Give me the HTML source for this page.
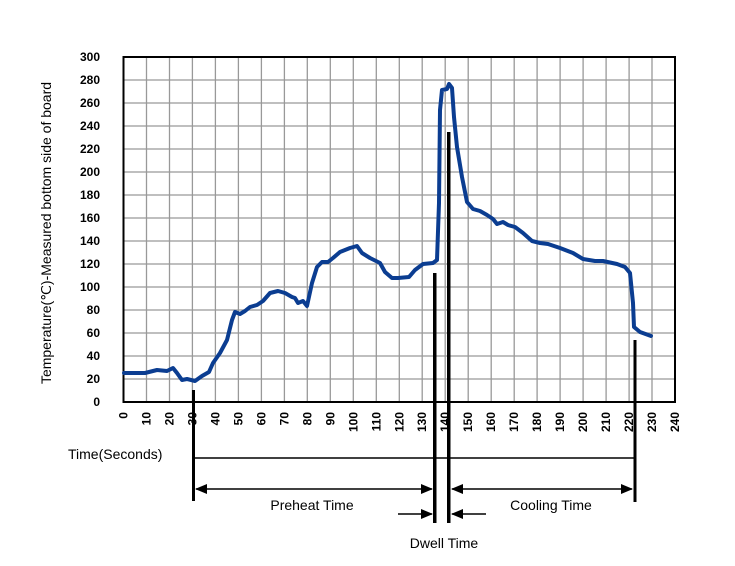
<!DOCTYPE html>
<html><head><meta charset="utf-8"><style>body{margin:0;background:#fff}</style></head><body>
<svg width="735" height="561" xmlns="http://www.w3.org/2000/svg" font-family="Liberation Sans, Arial, sans-serif">
<g stroke="#999" stroke-width="1.3">
<line x1="146.5" y1="57" x2="146.5" y2="402"/><line x1="169.5" y1="57" x2="169.5" y2="402"/><line x1="192.4" y1="57" x2="192.4" y2="402"/><line x1="215.4" y1="57" x2="215.4" y2="402"/><line x1="238.4" y1="57" x2="238.4" y2="402"/><line x1="261.4" y1="57" x2="261.4" y2="402"/><line x1="284.4" y1="57" x2="284.4" y2="402"/><line x1="307.3" y1="57" x2="307.3" y2="402"/><line x1="330.3" y1="57" x2="330.3" y2="402"/><line x1="353.3" y1="57" x2="353.3" y2="402"/><line x1="376.3" y1="57" x2="376.3" y2="402"/><line x1="399.3" y1="57" x2="399.3" y2="402"/><line x1="422.2" y1="57" x2="422.2" y2="402"/><line x1="445.2" y1="57" x2="445.2" y2="402"/><line x1="468.2" y1="57" x2="468.2" y2="402"/><line x1="491.2" y1="57" x2="491.2" y2="402"/><line x1="514.2" y1="57" x2="514.2" y2="402"/><line x1="537.1" y1="57" x2="537.1" y2="402"/><line x1="560.1" y1="57" x2="560.1" y2="402"/><line x1="583.1" y1="57" x2="583.1" y2="402"/><line x1="606.1" y1="57" x2="606.1" y2="402"/><line x1="629.1" y1="57" x2="629.1" y2="402"/><line x1="652" y1="57" x2="652" y2="402"/>
<line x1="123.5" y1="379" x2="675" y2="379"/><line x1="123.5" y1="356" x2="675" y2="356"/><line x1="123.5" y1="333" x2="675" y2="333"/><line x1="123.5" y1="310" x2="675" y2="310"/><line x1="123.5" y1="287" x2="675" y2="287"/><line x1="123.5" y1="264" x2="675" y2="264"/><line x1="123.5" y1="241" x2="675" y2="241"/><line x1="123.5" y1="218" x2="675" y2="218"/><line x1="123.5" y1="195" x2="675" y2="195"/><line x1="123.5" y1="172" x2="675" y2="172"/><line x1="123.5" y1="149" x2="675" y2="149"/><line x1="123.5" y1="126" x2="675" y2="126"/><line x1="123.5" y1="103" x2="675" y2="103"/><line x1="123.5" y1="80" x2="675" y2="80"/>
</g>
<g font-size="12" font-weight="bold" text-anchor="end">
<text x="100" y="406">0</text><text x="100" y="383">20</text><text x="100" y="360">40</text><text x="100" y="337">60</text><text x="100" y="314">80</text><text x="100" y="291">100</text><text x="100" y="268">120</text><text x="100" y="245">140</text><text x="100" y="222">160</text><text x="100" y="199">180</text><text x="100" y="176">200</text><text x="100" y="153">220</text><text x="100" y="130">240</text><text x="100" y="107">260</text><text x="100" y="84">280</text><text x="100" y="61">300</text>
</g>
<g font-size="12" font-weight="bold" text-anchor="end">
<text transform="translate(127.5,412) rotate(-90)">0</text><text transform="translate(150.5,412) rotate(-90)">10</text><text transform="translate(173.5,412) rotate(-90)">20</text><text transform="translate(196.4,412) rotate(-90)">30</text><text transform="translate(219.4,412) rotate(-90)">40</text><text transform="translate(242.4,412) rotate(-90)">50</text><text transform="translate(265.4,412) rotate(-90)">60</text><text transform="translate(288.4,412) rotate(-90)">70</text><text transform="translate(311.3,412) rotate(-90)">80</text><text transform="translate(334.3,412) rotate(-90)">90</text><text transform="translate(357.3,412) rotate(-90)">100</text><text transform="translate(380.3,412) rotate(-90)">110</text><text transform="translate(403.3,412) rotate(-90)">120</text><text transform="translate(426.2,412) rotate(-90)">130</text><text transform="translate(449.2,412) rotate(-90)">140</text><text transform="translate(472.2,412) rotate(-90)">150</text><text transform="translate(495.2,412) rotate(-90)">160</text><text transform="translate(518.2,412) rotate(-90)">170</text><text transform="translate(541.1,412) rotate(-90)">180</text><text transform="translate(564.1,412) rotate(-90)">190</text><text transform="translate(587.1,412) rotate(-90)">200</text><text transform="translate(610.1,412) rotate(-90)">210</text><text transform="translate(633.1,412) rotate(-90)">220</text><text transform="translate(656,412) rotate(-90)">230</text><text transform="translate(679,412) rotate(-90)">240</text>
</g>
<rect x="123.5" y="57" width="551.5" height="345" fill="none" stroke="#000" stroke-width="2"/>
<polyline fill="none" stroke="#0b3d91" stroke-width="4" stroke-linejoin="round" stroke-linecap="round" points="124,373 145,373 157,370 167,371 173,368 177,373 182,380 187,379 195,381 202,376 209,372 213,363 220,353 227,340 232,320 235,312 240,314 245,311 250,307 257,305 263,301 270,293 278,291 285,293 292,297 295,298 298,303 303,301 307,306 312,283 317,267 322,262 328,262 333,258 340,252 350,248 357,246 362,253 370,258 380,263 385,272 392,278 398,278 409,277 415,270 423,264 433,263 437,260 439,203 440,110 442,90 447,89 449,84 452,88 454,117 457,147 462,177 467,202 473,209 480,211 487,215 493,219 497,224 503,222 508,225 515,227 523,233 532,241 540,243 548,244 560,248 573,253 583,259 595,261 603,261 617,264 625,267 630,273 633,303 634,327 640,332 651,336"/>
<g fill="#000">
<rect x="192" y="390" width="3" height="111"/>
<rect x="433" y="273" width="3.5" height="250"/>
<rect x="447" y="132" width="3.5" height="391"/>
<rect x="633.5" y="340" width="3" height="162"/>
</g>
<g stroke="#000" stroke-width="1.5">
<line x1="193" y1="458" x2="635" y2="458"/>
<line x1="196" y1="489" x2="432" y2="489"/>
<line x1="452" y1="489" x2="632" y2="489"/>
<line x1="398" y1="514" x2="432" y2="514"/>
<line x1="452" y1="514" x2="486" y2="514"/>
</g>
<g fill="#000">
<polygon points="195,489 207,484 207,494"/>
<polygon points="433,489 421,484 421,494"/>
<polygon points="451,489 463,484 463,494"/>
<polygon points="633,489 621,484 621,494"/>
<polygon points="433,514 421,509 421,519"/>
<polygon points="451,514 463,509 463,519"/>
</g>
<g font-size="14">
<text x="68" y="459">Time(Seconds)</text>
<text x="312" y="510" text-anchor="middle">Preheat Time</text>
<text x="551" y="510" text-anchor="middle">Cooling Time</text>
<text x="444" y="548" text-anchor="middle">Dwell Time</text>
<text transform="translate(51,233) rotate(-90)" text-anchor="middle" font-size="14">Temperature(℃)-Measured bottom side of board</text>
</g>
</svg>
</body></html>
